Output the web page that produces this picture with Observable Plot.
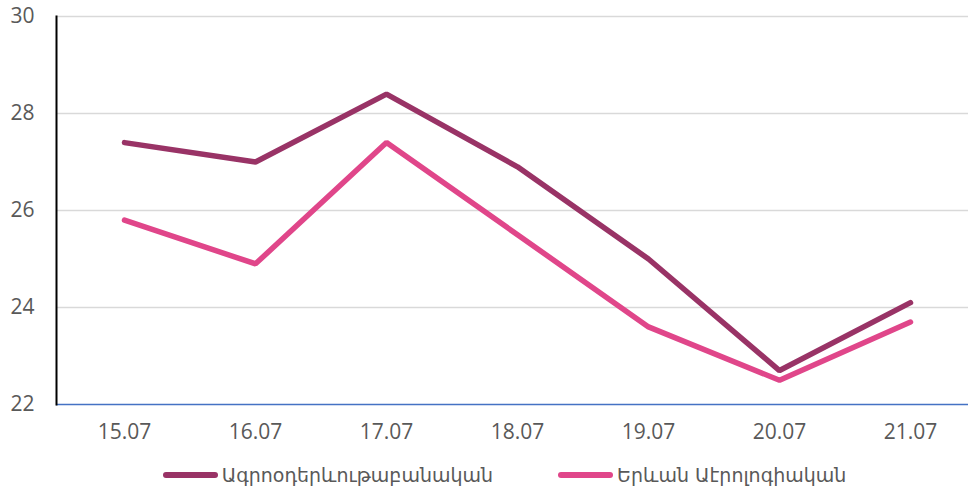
<!DOCTYPE html>
<html>
<head>
<meta charset="utf-8">
<script src="https://cdn.jsdelivr.net/npm/d3@7"></script>
<script src="https://cdn.jsdelivr.net/npm/@observablehq/plot@0.6"></script>
<style>
  body { margin: 0; background: #fff; font-family: "Open Sans", "DejaVu Sans", sans-serif; }
  #chart { width: 969px; height: 493px; position: relative; }
  #chart svg g[aria-label$="tick label"] { font-size: 21px; }
  .legend { display: flex; justify-content: center; align-items: center; height: 52px; color: #595959; font-size: 19px; font-family: "DejaVu Sans", "Open Sans", sans-serif; padding-left: 40px; box-sizing: border-box; }
  .item { display: flex; align-items: center; }
  .sw { width: 55px; height: 6px; border-radius: 3px; margin-right: 4px; }
</style>
</head>
<body>
<div id="chart"></div>
<script>
const dates = ["15.07", "16.07", "17.07", "18.07", "19.07", "20.07", "21.07"];
const seriesNames = ["Ագրոօդերևութաբանական", "Երևան Աէրոլոգիական"];
const agroValues = [27.4, 27.0, 28.4, 26.9, 25.0, 22.7, 24.1];
const yerevanValues = [25.8, 24.9, 27.4, 25.5, 23.6, 22.5, 23.7];
const colors = ["#993366", "#E0468A"];
const yTicks = [22, 24, 26, 28, 30];

const data = [];
dates.forEach((d, i) => {
  data.push({date: d, value: agroValues[i], series: seriesNames[0]});
  data.push({date: d, value: yerevanValues[i], series: seriesNames[1]});
});

const plot = Plot.plot({
  width: 969,
  height: 449,
  marginTop: 16,
  marginBottom: 45,
  marginLeft: 56,
  marginRight: 1,
  style: {fontFamily: "'Open Sans', 'DejaVu Sans', sans-serif", fontSize: "21px", color: "#595959"},
  x: {type: "point", domain: dates, range: [121, 912], padding: 0, label: null},
  y: {domain: [22, 30], label: null},
  color: {domain: seriesNames, range: colors},
  marks: [
    Plot.ruleY(yTicks.filter(t => t > 22), {stroke: "#d9d9d9", strokeWidth: 1.3}),
    Plot.axisY(yTicks, {tickSize: 0, tickPadding: 22, fontSize: 21, fill: "#595959", label: null}),
    Plot.axisX({tickSize: 0, tickPadding: 20, fontSize: 21, fill: "#595959", label: null}),
    Plot.line(data, {x: "date", y: "value", z: "series", stroke: "series", strokeWidth: 5.5, strokeLinecap: "round", strokeLinejoin: "miter"}),
    Plot.ruleY([22], {stroke: "#4472C4", strokeWidth: 1.5}),
    Plot.frame({anchor: "left", stroke: "#000", strokeWidth: 2})
  ]
});
document.getElementById("chart").appendChild(plot);

const legend = document.createElement("div");
legend.className = "legend";
seriesNames.forEach((name, i) => {
  const item = document.createElement("div");
  item.className = "item";
  if (i > 0) item.style.marginLeft = "65px";
  const sw = document.createElement("span");
  sw.className = "sw";
  sw.style.background = colors[i];
  const tx = document.createElement("span");
  tx.textContent = name;
  item.appendChild(sw);
  item.appendChild(tx);
  legend.appendChild(item);
});
document.getElementById("chart").appendChild(legend);
</script>
</body>
</html>
